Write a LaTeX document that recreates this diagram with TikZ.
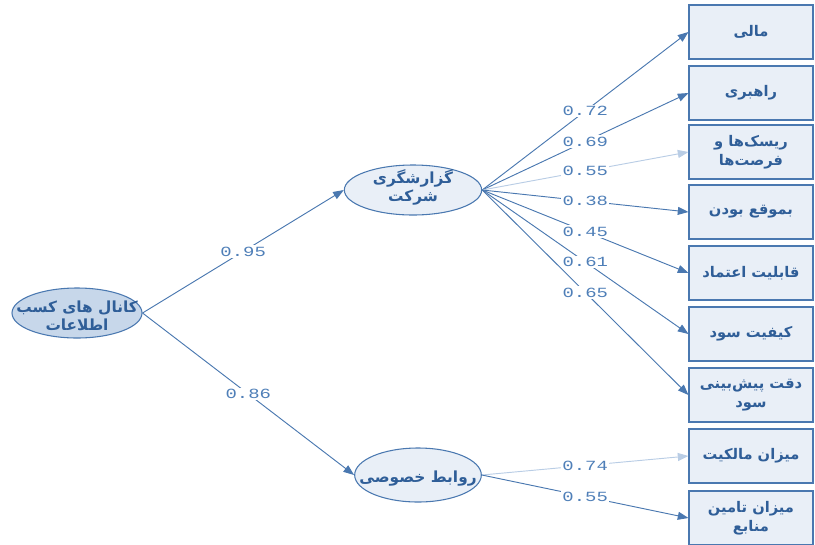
\documentclass[tikz,border=0pt]{standalone}
\usepackage{fontspec}
\usepackage{tikz}
\usetikzlibrary{shapes.geometric,arrows.meta}
\TeXXeTstate=1
\newfontfamily\farsifont[Script=Arabic]{DejaVu Sans}
\newfontfamily\coeffont[FakeStretch=1.35]{Liberation Mono}
\newcommand{\overlines}[2][0pt]{\smash{\makebox[0pt]{\raisebox{#1}{\begin{tabular}{@{}c@{}}#2\end{tabular}}}}}
\definecolor{lineblue}{HTML}{4A78B0}
\definecolor{paleline}{HTML}{B9CDE5}
\definecolor{textblue}{HTML}{2F5E98}
\definecolor{coefblue}{HTML}{4F7FB8}
\definecolor{boxfill}{HTML}{E9EFF7}
\definecolor{darkfill}{HTML}{C7D7EA}
\tikzset{
  latent/.style={ellipse, draw=lineblue, line width=0.8pt, inner sep=0pt,
    text=textblue, font=\farsifont\bfseries\fontsize{11.5}{13.5}\selectfont},
  observed/.style={rectangle, draw=lineblue, line width=0.8pt, fill=boxfill, inner sep=0pt,
    minimum width=93pt, minimum height=40.5pt, align=center,
    text=textblue, font=\farsifont\bfseries\fontsize{11}{14}\selectfont},
  path/.style={draw=lineblue, line width=0.7pt, -{Triangle[length=8pt,width=6pt]}},
  weakpath/.style={path, draw=paleline},
  coef/.style={midway, fill=white, inner sep=1pt, text=coefblue, font=\coeffont\fontsize{10.5}{12}\selectfont}
}
\begin{document}
\begin{tikzpicture}[x=0.75pt,y=0.75pt,yscale=-1,xscale=1]
\useasboundingbox (0,0) rectangle (815,544);

%Shape: Ellipse [id:kanal] 
\node [latent, fill=darkfill, minimum width=97.5pt, minimum height=37.5pt] (kanal) at (77,313) {\overlines[-7pt]{\beginR کانال های کسب\endR\\\beginR اطلاعات\endR}};
%Shape: Ellipse [id:gozaresh] 
\node [latent, fill=boxfill, minimum width=103pt, minimum height=37.5pt] (gozaresh) at (413,190) {\overlines[-2pt]{\beginR گزارشگری\endR\\\beginR شرکت\endR}};
%Shape: Ellipse [id:ravabet] 
\node [latent, fill=boxfill, minimum width=95pt, minimum height=40.5pt] (ravabet) at (418,475) {\overlines[-6pt]{\beginR روابط خصوصی\endR}};

%Shape: Rectangle [id:mali] 
\node [observed] (mali) at (751,32) {\beginR مالی\endR};
%Shape: Rectangle [id:rahbari] 
\node [observed] (rahbari) at (751,93) {\beginR راهبری\endR};
%Shape: Rectangle [id:risk] 
\node [observed] (risk) at (751,152) {\beginR ریسک‌ها و\endR\\\beginR فرصت‌ها\endR};
%Shape: Rectangle [id:bemoghe] 
\node [observed] (bemoghe) at (751,212) {\beginR بموقع بودن\endR};
%Shape: Rectangle [id:etemad] 
\node [observed] (etemad) at (751,273) {\beginR قابلیت اعتماد\endR};
%Shape: Rectangle [id:keyfiat] 
\node [observed] (keyfiat) at (751,334) {\beginR کیفیت سود\endR};
%Shape: Rectangle [id:pishbini] 
\node [observed] (pishbini) at (751,395) {\beginR دقت پیش‌بینی\endR\\\beginR سود\endR};
%Shape: Rectangle [id:malekiat] 
\node [observed] (malekiat) at (751,456) {\beginR میزان مالکیت\endR};
%Shape: Rectangle [id:tamin] 
\node [observed] (tamin) at (751,518) {\beginR میزان تامین\endR\\\beginR منابع\endR};

%Straight Lines [id:structural] 
\draw [path] (kanal.east) -- node [coef] {0.95} (gozaresh.west);
\draw [path] (kanal.east) -- node [coef] {0.86} (ravabet.west);

%Straight Lines [id:loadings] 
\coordinate (fan) at (gozaresh.east);
\draw [path] (fan) -- node [coef] {0.72} (mali.west);
\draw [path] (fan) -- node [coef] {0.69} (rahbari.west);
\draw [weakpath] (fan) -- node [coef] {0.55} (risk.west);
\draw [path] (fan) -- node [coef] {0.38} (bemoghe.west);
\draw [path] (fan) -- node [coef] {0.45} (etemad.west);
\draw [path] (fan) -- node [coef] {0.61} (keyfiat.west);
\draw [path] (fan) -- node [coef] {0.65} (pishbini.west);

\draw [weakpath] (ravabet.east) -- node [coef] {0.74} (malekiat.west);
\draw [path] (ravabet.east) -- node [coef] {0.55} (tamin.west);

\end{tikzpicture}
\end{document}
